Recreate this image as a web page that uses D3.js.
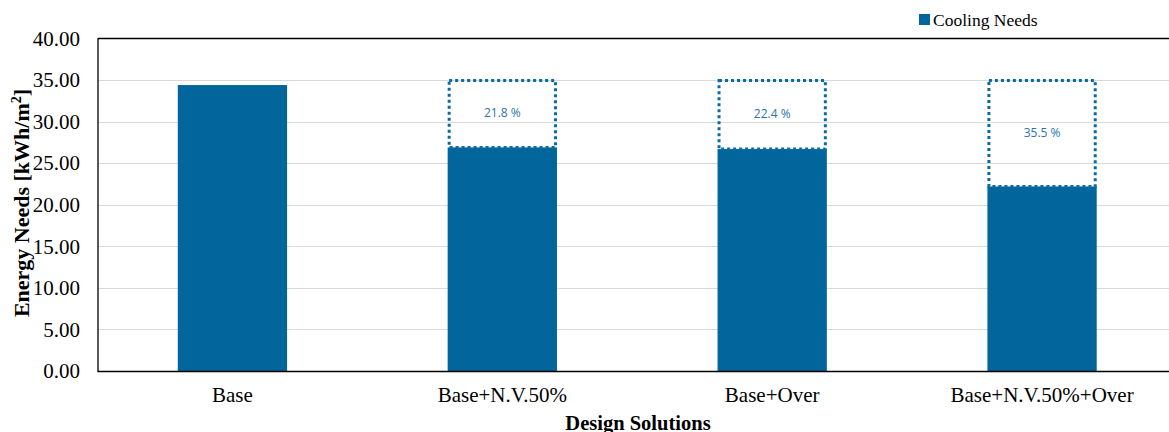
<!DOCTYPE html>
<html>
<head>
<meta charset="utf-8">
<script src="https://cdn.jsdelivr.net/npm/d3@7"></script>
<style>
  body { margin: 0; background: #fff; }
  svg { display: block; }
</style>
</head>
<body>
<svg id="chart" width="1169" height="432"></svg>
<script>
// Cooling energy needs per design solution
const categories = ["Base", "Base+N.V.50%", "Base+Over", "Base+N.V.50%+Over"];
const coolingNeeds = [34.4, 26.9, 26.7, 22.2];
const reductionLabels = [null, "21.8 %", "22.4 %", "35.5 %"];
const yTicks = [0, 5, 10, 15, 20, 25, 30, 35, 40];

const svg = d3.select("#chart");
const W = 1169, H = 432;
const plot = { left: 97.5, right: 1177, top: 38.5, bottom: 371 };
const barColor = "#02669c";
const serif = "'Liberation Serif', 'Times New Roman', serif";

const x = d3.scaleBand().domain(categories).range([plot.left, plot.right])
  .paddingInner(0.595).paddingOuter(0.2975);
const y = d3.scaleLinear().domain([0, 40]).range([plot.bottom, plot.top]);

// horizontal gridlines
svg.append("g").selectAll("line").data(yTicks.filter(d => d > 0 && d < 40)).join("line")
  .attr("x1", plot.left).attr("x2", W)
  .attr("y1", d => Math.round(y(d)) + 0.5).attr("y2", d => Math.round(y(d)) + 0.5)
  .attr("stroke", "#d9d9d9").attr("stroke-width", 1);

// bars
svg.append("g").selectAll("rect").data(coolingNeeds).join("rect")
  .attr("x", (d, i) => x(categories[i]))
  .attr("width", x.bandwidth())
  .attr("y", d => y(d))
  .attr("height", d => y(0) - y(d))
  .attr("fill", barColor);

// dotted boxes showing the reduction relative to the base case
const base = coolingNeeds[0];
const boxes = svg.append("g");
coolingNeeds.forEach((v, i) => {
  if (!reductionLabels[i]) return;
  const x0 = x(categories[i]) + 1.5;
  const w = x.bandwidth() - 3;
  const top = y(base) - 4.5;
  boxes.append("rect")
    .attr("x", x0).attr("y", top)
    .attr("width", w).attr("height", y(v) - top)
    .attr("fill", "none")
    .attr("stroke", "#0a6aa3").attr("stroke-width", 3)
    .attr("stroke-dasharray", "3,3");
  boxes.append("text")
    .attr("x", x(categories[i]) + x.bandwidth() / 2)
    .attr("y", (top + y(v)) / 2 + 3.5)
    .attr("text-anchor", "middle")
    .attr("font-family", "'Open Sans', 'Noto Sans', sans-serif")
    .attr("font-size", 12)
    .attr("fill", "#2a74ad")
    .text(reductionLabels[i]);
});

// frame: top and bottom lines
svg.append("line").attr("x1", plot.left).attr("x2", W).attr("y1", plot.top).attr("y2", plot.top)
  .attr("stroke", "#000").attr("stroke-width", 1.3);
svg.append("line").attr("x1", plot.left).attr("x2", W).attr("y1", plot.bottom + 0.5).attr("y2", plot.bottom + 0.5)
  .attr("stroke", "#000").attr("stroke-width", 1.3);

// y axis
const yAxis = svg.append("g").attr("transform", `translate(${plot.left},0)`)
  .call(d3.axisLeft(y).tickValues(yTicks).tickSize(0).tickPadding(17.5).tickFormat(d3.format(".2f")));
yAxis.select(".domain").attr("stroke", "#000").attr("stroke-width", 1.3);
yAxis.selectAll("text").attr("font-family", serif).attr("font-size", 21).attr("fill", "#000");

// x axis
const xAxis = svg.append("g").attr("transform", `translate(0,${plot.bottom})`)
  .call(d3.axisBottom(x).tickSize(0).tickPadding(16));
xAxis.select(".domain").remove();
xAxis.selectAll("text").attr("font-family", serif).attr("font-size", 21).attr("fill", "#000");

// axis titles
svg.append("text")
  .attr("x", 638).attr("y", 430)
  .attr("text-anchor", "middle")
  .attr("font-family", serif).attr("font-weight", "bold").attr("font-size", 20.5)
  .text("Design Solutions");

const yt = svg.append("text")
  .attr("transform", `translate(29,203) rotate(-90)`)
  .attr("text-anchor", "middle")
  .attr("font-family", serif).attr("font-weight", "bold").attr("font-size", 22);
yt.append("tspan").text("Energy Needs [kWh/m");
yt.append("tspan").attr("font-size", 14).attr("dy", -8).text("2");
yt.append("tspan").attr("dy", 8).text("]");

// legend
svg.append("rect").attr("x", 919).attr("y", 14).attr("width", 11).attr("height", 11).attr("fill", barColor);
svg.append("text").attr("x", 933).attr("y", 26)
  .attr("font-family", serif).attr("font-size", 17.5).text("Cooling Needs");
</script>
</body>
</html>
